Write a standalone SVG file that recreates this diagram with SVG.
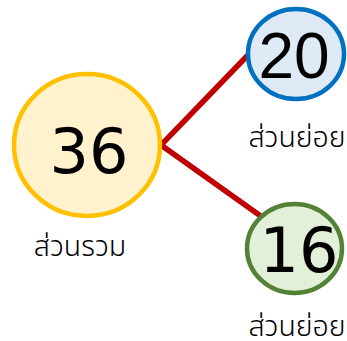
<svg xmlns="http://www.w3.org/2000/svg" width="347" height="341" viewBox="0 0 347 341">
<style>
.lbl{font-family:"Noto Sans Thai","Noto Sans","DejaVu Sans",sans-serif;font-size:28.5px;font-weight:300;fill:#000;text-anchor:middle}
.num{font-family:"DejaVu Sans",sans-serif;font-size:62px;fill:#000;text-anchor:middle}
.num2{font-family:"Liberation Sans",Arial,sans-serif;font-size:64px;fill:#000;text-anchor:middle}
.ln{stroke:#C00000;stroke-width:5.5;fill:none}
</style>
<rect width="347" height="341" fill="#fff"/>
<g id="connectors">
<polyline class="ln" points="248,55 161,145 262,217"/>
</g>
<g id="total">
<ellipse cx="87" cy="145" rx="73" ry="71" fill="#FFF2CC" stroke="#FFC000" stroke-width="4.5"/>
<text class="num" x="89" y="173">36</text>
<text class="lbl" x="80" y="256">ส่วนรวม</text>
</g>
<g id="part1">
<ellipse cx="296" cy="54" rx="48" ry="45" fill="#DEEBF7" stroke="#0070C0" stroke-width="4.5"/>
<text class="num2" x="294" y="78">20</text>
<text class="lbl" x="297" y="147">ส่วนย่อย</text>
</g>
<g id="part2">
<ellipse cx="294.5" cy="248.5" rx="47.5" ry="44.5" fill="#E2F0D9" stroke="#548235" stroke-width="4.5"/>
<text class="num" x="299" y="272">16</text>
<text class="lbl" x="297" y="336">ส่วนย่อย</text>
</g>
</svg>
